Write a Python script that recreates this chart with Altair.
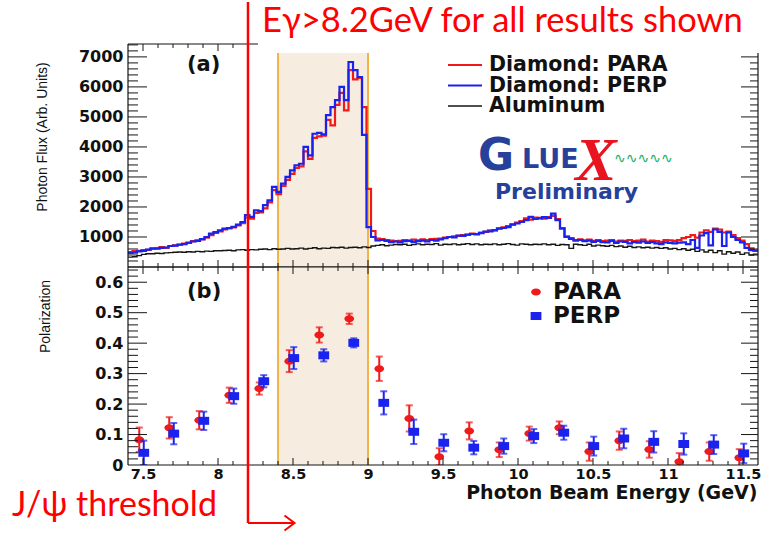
import altair as alt
import pandas as pd

# ---------------- photon flux spectra (140 bins of 0.03 GeV from 7.40 GeV) ----------------
FLUX_BIN_START = 7.40
FLUX_BIN_WIDTH = 0.03

flux_para = [
    500, 530, 540, 560, 570, 620, 610, 660, 640, 700,
    720, 740, 780, 800, 860, 890, 920, 980, 1060, 1140,
    1190, 1250, 1290, 1320, 1390, 1460, 1650, 1610, 1800, 1820,
    1950, 2150, 2560, 2430, 2700, 2900, 3100, 3300, 3350, 3850,
    3600, 4300, 4350, 4380, 4900, 4720, 5400, 5800, 5220, 6560,
    6250, 6300, 5330, 2600, 1200, 950, 930, 900, 880, 860,
    870, 900, 880, 910, 890, 920, 900, 930, 940, 950,
    980, 1000, 1020, 1040, 1060, 1070, 1110, 1100, 1150, 1170,
    1220, 1230, 1290, 1320, 1360, 1420, 1480, 1530, 1620, 1580,
    1650, 1640, 1610, 1660, 1700, 1600, 1300, 1020, 960, 900,
    920, 890, 910, 870, 900, 860, 880, 900, 850, 880,
    870, 900, 860, 880, 910, 850, 880, 860, 840, 900,
    890, 870, 900, 960, 1000, 1060, 980, 1150, 1220, 1170,
    1280, 1250, 1150, 1180, 1060, 960, 880, 760, 620, 540,
]

flux_perp = [
    470, 480, 520, 540, 580, 610, 620, 640, 650, 700,
    710, 750, 760, 810, 850, 870, 930, 1000, 1110, 1160,
    1220, 1280, 1300, 1340, 1410, 1500, 1730, 1670, 1890, 1860,
    2060, 2220, 2670, 2500, 2780, 3000, 3220, 3390, 3440, 4000,
    3720, 4440, 4470, 4420, 5060, 5330, 5560, 6000, 5560, 6830,
    6560, 6330, 4400, 1330, 1000, 890, 900, 870, 830, 850,
    820, 860, 870, 840, 860, 880, 850, 900, 880, 920,
    960, 1000, 990, 1050, 1040, 1080, 1100, 1090, 1130, 1180,
    1190, 1220, 1280, 1300, 1330, 1410, 1450, 1500, 1560, 1670,
    1600, 1620, 1660, 1640, 1780, 1560, 1280, 1000, 940, 880,
    900, 860, 880, 840, 870, 830, 820, 870, 800, 850,
    840, 790, 830, 810, 850, 800, 830, 790, 760, 820,
    800, 790, 810, 820, 760, 900, 640, 1050, 1130, 720,
    1250, 1170, 700, 1150, 1000, 900, 820, 640, 560, 550,
]

flux_alum = [
    330, 340, 380, 420, 440, 440, 460, 450, 470, 480,
    490, 500, 490, 510, 500, 520, 510, 530, 520, 540,
    540, 550, 560, 540, 570, 580, 560, 580, 570, 590,
    600, 580, 610, 590, 600, 620, 600, 610, 630, 600,
    620, 640, 610, 630, 620, 650, 640, 660, 630, 650,
    660, 640, 670, 650, 700, 720, 740, 710, 730, 750,
    740, 760, 720, 750, 770, 740, 760, 750, 780, 730,
    760, 750, 770, 740, 760, 780, 750, 770, 740, 760,
    750, 770, 740, 760, 780, 750, 730, 770, 760, 740,
    760, 750, 770, 740, 760, 720, 750, 740, 620, 760,
    740, 720, 760, 700, 730, 710, 690, 720, 680, 700,
    660, 690, 650, 670, 640, 660, 630, 650, 620, 640,
    600, 620, 580, 610, 560, 590, 520, 570, 500, 560,
    480, 540, 430, 510, 460, 500, 420, 470, 400, 430,
]

# ---------------- polarization points ----------------
pol_para_E = [7.475, 7.675, 7.875, 8.075, 8.275, 8.475, 8.675, 8.875, 9.075, 9.275, 9.475,
              9.675, 9.875, 10.075, 10.275, 10.475, 10.675, 10.875, 11.075, 11.275, 11.475]
pol_para = [0.083, 0.122, 0.147, 0.229, 0.251, 0.341, 0.427, 0.480, 0.316, 0.153, 0.027,
            0.112, 0.050, 0.103, 0.122, 0.044, 0.080, 0.051, 0.011, 0.044, 0.024]
pol_para_err = [0.040, 0.035, 0.030, 0.025, 0.020, 0.036, 0.025, 0.017, 0.040, 0.043, 0.028,
                0.028, 0.024, 0.023, 0.021, 0.030, 0.030, 0.027, 0.028, 0.030, 0.028]

pol_perp_E = [7.505, 7.705, 7.905, 8.105, 8.305, 8.505, 8.705, 8.905, 9.105, 9.305, 9.505,
              9.705, 9.905, 10.105, 10.305, 10.505, 10.705, 10.905, 11.105, 11.305, 11.505]
pol_perp = [0.040, 0.103, 0.145, 0.226, 0.275, 0.351, 0.360, 0.401, 0.204, 0.109, 0.073,
            0.057, 0.062, 0.095, 0.106, 0.062, 0.087, 0.076, 0.069, 0.067, 0.038]
pol_perp_err = [0.040, 0.035, 0.030, 0.025, 0.020, 0.036, 0.020, 0.015, 0.038, 0.040, 0.028,
                0.022, 0.025, 0.023, 0.023, 0.031, 0.032, 0.035, 0.035, 0.031, 0.032]

# coherent peak window and threshold
peak_window = [8.4, 9.0]
threshold_E = 8.2

# axis tick values
x_major = [7.5, 8.0, 8.5, 9.0, 9.5, 10.0, 10.5, 11.0, 11.5]
x_minor = [round(7.5 + 0.1 * i, 1) for i in range(41) if i % 5]
flux_major = [1000, 2000, 3000, 4000, 5000, 6000, 7000]
flux_minor = [v for v in range(200, 7430, 200) if v % 1000]
pol_major = [0.1, 0.2, 0.3, 0.4, 0.5, 0.6]
pol_minor = [round(0.02 * i, 2) for i in range(1, 33) if i % 5]

# ---------------- styling ----------------
W, TOP_H, BOT_H = 630, 223, 198
RED, BLUE, BLACK = "#f01a1a", "#1a22ee", "#151515"
BAND_FILL, BAND_EDGE = "#f6ede0", "#f2b446"
LOGO_BLUE = "#27409a"

x_scale = alt.Scale(domain=[7.4, 11.6], nice=False, zero=False)
flux_scale = alt.Scale(domain=[0, 7430], nice=False, zero=False)
pol_scale = alt.Scale(domain=[0, 0.65], nice=False, zero=False)

ELLIPSE = "M-1.4,0A1.4,1,0,1,1,1.4,0A1.4,1,0,1,1,-1.4,0Z"
RECT = "M-1.35,-1L1.35,-1L1.35,1L-1.35,1Z"
CHEVRON = "M-1,-0.75L0,0L-1,0.75"

flux_axis = alt.Axis(
    values=flux_major, format="d", labelPadding=5, labelFlush=False, labelOverlap=False,
    title="Photon Flux (Arb. Units)", titleX=-86, titleY=92.5, titleAngle=270,
    titleAlign="center", titleBaseline="middle",
)
pol_axis_y = alt.Axis(
    values=[0] + pol_major, format="~g", labelPadding=5, labelFlush=False, labelOverlap=False,
    title="Polarization", titleX=-83, titleY=49, titleAngle=270,
    titleAlign="center", titleBaseline="middle",
)
pol_axis_x = alt.Axis(
    values=x_major, format="~g", labelPadding=2, labelFlush=False, labelOverlap=False,
    labelFontSize=14.5,
    title="Photon Beam Energy (GeV)", titleX=629, titleY=33, titleAngle=0,
    titleAlign="right", titleBaseline="alphabetic",
    titleFont="DejaVu Sans", titleFontWeight="bold", titleFontSize=19,
)


class Panel:
    """Axis set shared by every layer of one panel."""

    def __init__(self, x_axis, y_scale, y_axis):
        self.x_axis, self.y_scale, self.y_axis = x_axis, y_scale, y_axis

    def x(self, field):
        return alt.X(f"{field}:Q", scale=x_scale, axis=self.x_axis)

    def y(self, field):
        return alt.Y(f"{field}:Q", scale=self.y_scale, axis=self.y_axis)


TOP = Panel(None, flux_scale, flux_axis)
BOT = Panel(pol_axis_x, pol_scale, pol_axis_y)

ONE = pd.DataFrame({"t": [0]})


def text_layer(text, x, y, size, color="#111", font="DejaVu Sans", weight="bold",
               align="left", baseline="middle", style="normal"):
    return alt.Chart(pd.DataFrame({"t": [text]})).mark_text(
        align=align, baseline=baseline, font=font, fontSize=size,
        fontWeight=weight, fontStyle=style, color=color,
    ).encode(text="t:N", x=alt.value(x), y=alt.value(y))


def frame_layers(panel, y_major, y_minor, height):
    layers = []
    # frame box
    for x0, x1, y0, y1 in ((0, 0, 0, height), (W, W, 0, height), (0, W, 0, 0), (0, W, height, height)):
        layers.append(alt.Chart(ONE).mark_rule(color=BLACK, strokeWidth=1.2).encode(
            x=alt.value(x0), x2=alt.value(x1), y=alt.value(y0), y2=alt.value(y1)))
    # ticks on the left and right frame edges, pointing inwards
    for vals, left_len, right_len in ((y_major, 19, 17), (y_minor, 10, 8)):
        df = pd.DataFrame({"v": vals})
        layers.append(alt.Chart(df).mark_rule(color=BLACK, strokeWidth=1).encode(
            y=panel.y("v"), x=alt.value(0), x2=alt.value(left_len)))
        layers.append(alt.Chart(df).mark_rule(color=BLACK, strokeWidth=1).encode(
            y=panel.y("v"), x=alt.value(W), x2=alt.value(W - right_len)))
    # ticks on the top and bottom frame edges, pointing inwards
    for vals, length in ((x_major, 7), (x_minor, 4)):
        df = pd.DataFrame({"v": vals})
        layers.append(alt.Chart(df).mark_rule(color=BLACK, strokeWidth=1).encode(
            x=panel.x("v"), y=alt.value(0), y2=alt.value(length)))
        layers.append(alt.Chart(df).mark_rule(color=BLACK, strokeWidth=1).encode(
            x=panel.x("v"), y=alt.value(height), y2=alt.value(height - length)))
    return layers


def band_layers(panel, top, height):
    band = pd.DataFrame({"lo": [peak_window[0]], "hi": [peak_window[1]]})
    edges = pd.DataFrame({"e": peak_window})
    fill = alt.Chart(band).mark_rect(color=BAND_FILL).encode(
        x=panel.x("lo"), x2="hi:Q", y=alt.value(top), y2=alt.value(height))
    edge = alt.Chart(edges).mark_rule(color=BAND_EDGE, strokeWidth=2).encode(
        x=panel.x("e"), y=alt.value(top), y2=alt.value(height))
    return [fill, edge]


# ---------------- panel (a): photon flux ----------------
edges_E = [round(FLUX_BIN_START + FLUX_BIN_WIDTH * i, 2) for i in range(len(flux_para) + 1)]


def flux_line(values, color, width):
    df = pd.DataFrame({"E": edges_E, "flux": list(values) + [values[-1]]})
    return alt.Chart(df).mark_line(interpolate="step-after", color=color, strokeWidth=width).encode(
        x=TOP.x("E"), y=TOP.y("flux"))


top_layers = band_layers(TOP, 9, TOP_H)
top_layers += [
    flux_line(flux_para, RED, 2.2),
    flux_line(flux_perp, BLUE, 2.2),
    flux_line(flux_alum, BLACK, 1.4),
]
top_layers += frame_layers(TOP, flux_major, flux_minor, TOP_H)

# legend of panel (a)
for label, color, yy, sw in (("Diamond: PARA", RED, 21, 2), ("Diamond: PERP", BLUE, 41.5, 2),
                             ("Aluminum", BLACK, 62, 1.4)):
    top_layers.append(alt.Chart(ONE).mark_rule(color=color, strokeWidth=sw).encode(
        x=alt.value(320), x2=alt.value(354), y=alt.value(yy)))
    top_layers.append(text_layer(label, 361, yy, 20.5))

top_layers.append(text_layer("(a)", 59, 21, 21))

# GlueX logo
top_layers += [
    text_layer("G", 368, 126, 44, color=LOGO_BLUE, align="center", baseline="alphabetic"),
    text_layer("LUE", 394, 124, 27, color=LOGO_BLUE, baseline="alphabetic"),
    text_layer("X", 468, 136, 62, color="#e8141f", font="Liberation Serif",
               align="center", baseline="alphabetic", style="italic"),
    text_layer("∿∿∿∿∿", 486, 115, 14, color="#25b06b", weight="normal"),
    text_layer("Preliminary", 367, 148, 22, color=LOGO_BLUE),
]

# header annotation above the frame
top_layers.append(alt.Chart(ONE).mark_rect(color="white").encode(
    x=alt.value(130), x2=alt.value(641), y=alt.value(-42), y2=alt.value(9)))
top_layers.append(text_layer("Eγ>8.2GeV for all results shown", 134, -12, 34.5, color="#ff0000",
                             font="Lato", weight="normal", baseline="alphabetic"))

top = alt.layer(*top_layers).properties(width=W, height=TOP_H)


# ---------------- panel (b): polarization ----------------
def pol_series(E, P, err, color, shape, size):
    df = pd.DataFrame({"E": E, "P": P,
                       "lo": [p - e for p, e in zip(P, err)],
                       "hi": [p + e for p, e in zip(P, err)]})
    bars = alt.Chart(df).mark_rule(color=color, strokeWidth=2, clip=True).encode(
        x=BOT.x("E"), y=BOT.y("lo"), y2="hi:Q")
    caps = [alt.Chart(df).mark_tick(color=color, orient="horizontal", size=7, thickness=2, clip=True).encode(
        x=BOT.x("E"), y=BOT.y(f)) for f in ("lo", "hi")]
    pts = alt.Chart(df).mark_point(shape=shape, size=size, filled=True, color=color, opacity=1).encode(
        x=BOT.x("E"), y=BOT.y("P"))
    return [bars] + caps + [pts]


bot_layers = band_layers(BOT, 0, BOT_H)
bot_layers += pol_series(pol_para_E, pol_para, pol_para_err, RED, ELLIPSE, 49)
bot_layers += pol_series(pol_perp_E, pol_perp, pol_perp_err, BLUE, RECT, 64)
bot_layers += frame_layers(BOT, pol_major, pol_minor, BOT_H)

# legend of panel (b)
for label, color, shape, size, yy in (("PARA", RED, ELLIPSE, 49, 25), ("PERP", BLUE, RECT, 64, 49)):
    bot_layers.append(alt.Chart(ONE).mark_point(
        shape=shape, size=size, filled=True, color=color, opacity=1).encode(
        x=alt.value(408), y=alt.value(yy)))
    bot_layers.append(text_layer(label, 425, yy, 23))

bot_layers.append(text_layer("(b)", 59, 25, 21))

# J/psi threshold marker with arrow
thr = pd.DataFrame({"e": [threshold_E], "tip": [8.51]})
bot_layers += [
    alt.Chart(thr).mark_rule(color="#ff0000", strokeWidth=2.5).encode(
        x=BOT.x("e"), y=alt.value(-265), y2=alt.value(256)),
    alt.Chart(thr).mark_rule(color="#ff0000", strokeWidth=2).encode(
        x=BOT.x("e"), x2="tip:Q", y=alt.value(256)),
    alt.Chart(thr).mark_point(shape=CHEVRON, size=400, filled=False, color="#ff0000",
                              strokeWidth=2, opacity=1).encode(x=BOT.x("tip"), y=alt.value(256)),
    text_layer("J/ψ threshold", -116, 249, 34, color="#ff0000", font="Lato",
               weight="normal", baseline="alphabetic"),
]

bottom = alt.layer(*bot_layers).properties(width=W, height=BOT_H)

chart = alt.vconcat(top, bottom, spacing=0, bounds="flush").properties(
    padding={"left": 12, "top": 0, "right": 0, "bottom": 0}
).configure_view(
    stroke=None
).configure_axis(
    grid=False, ticks=False, domain=False,
    labelFont="DejaVu Sans", labelFontWeight="bold", labelFontSize=16, labelColor="#111",
    titleFont="Liberation Sans", titleFontWeight="normal", titleFontSize=14, titleColor="#111",
)

chart.save("out.html", embed_options={"renderer": "svg", "actions": False})
